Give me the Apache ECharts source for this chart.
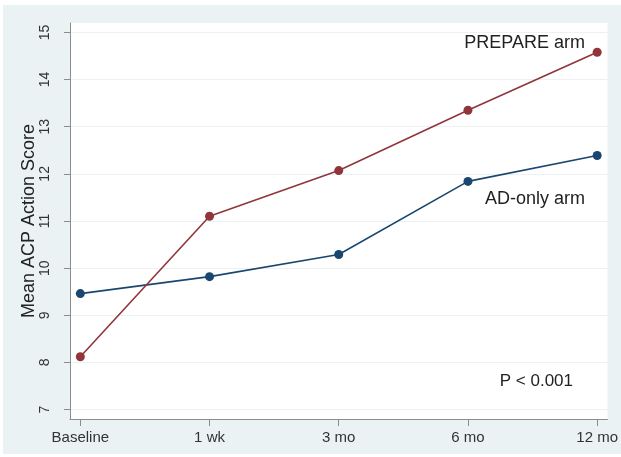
<!DOCTYPE html>
<html>
<head>
<meta charset="utf-8">
<script src="https://cdn.jsdelivr.net/npm/echarts@6/dist/echarts.min.js"></script>
<style>
  html, body { margin: 0; padding: 0; background: #fff; }
  #myChart { position: absolute; left: 3px; top: 5px; width: 618px; height: 449px; }
</style>
</head>
<body>
<div id="myChart"></div>
<script>
// time points (x positions 0..4)
var timePoints = ['Baseline', '1 wk', '3 mo', '6 mo', '12 mo'];
var prepareArm = [8.12, 11.10, 12.07, 13.35, 14.58];
var adOnlyArm = [9.46, 9.82, 10.29, 11.84, 12.39];
var yTicks = [7, 8, 9, 10, 11, 12, 13, 14, 15];

var myChart = echarts.init(document.querySelector('#myChart'));

function pairs(arr) {
    return arr.map(function (v, i) { return [i, v]; });
}

var font = '"Liberation Sans", Arial, sans-serif';

option = {
    backgroundColor: '#eaf2f3',
    animation: false,
    textStyle: { fontFamily: font },
    grid: {
        left: 67, top: 18, right: 9, bottom: 35,
        show: true, backgroundColor: '#ffffff', borderWidth: 0
    },
    xAxis: {
        type: 'value',
        min: -0.08,
        max: 4.08,
        axisLine: { show: true, onZero: false, lineStyle: { color: '#8c8c8c', width: 1 } },
        axisTick: { show: true, length: 7, customValues: [0, 1, 2, 3, 4], lineStyle: { color: '#8c8c8c' } },
        axisLabel: {
            customValues: [0, 1, 2, 3, 4],
            formatter: function (v) { return timePoints[Math.round(v)]; },
            color: '#333', fontSize: 15, fontFamily: font, margin: 11
        },
        splitLine: { show: false }
    },
    yAxis: {
        type: 'value',
        min: 6.8,
        max: 15.2,
        name: 'Mean ACP Action Score',
        nameLocation: 'middle',
        nameGap: 32,
        nameMoveOverlap: false,
        nameTextStyle: { fontSize: 18, color: '#222', fontFamily: font },
        axisLine: { show: true, onZero: false, lineStyle: { color: '#8c8c8c', width: 1 } },
        axisTick: { show: true, length: 6, customValues: yTicks, lineStyle: { color: '#8c8c8c' } },
        axisLabel: {
            customValues: yTicks,
            rotate: 90,
            color: '#333', fontSize: 14, fontFamily: font, margin: 18
        },
        splitLine: { show: true, lineStyle: { color: '#eaf2f3', width: 1 } }
    },
    graphic: [
        { type: 'text', right: 36, top: 29, style: { text: 'PREPARE arm', font: '18px ' + font, fill: '#222' } },
        { type: 'text', right: 36, top: 185, style: { text: 'AD-only arm', font: '18px ' + font, fill: '#222' } },
        { type: 'text', right: 48, top: 368, style: { text: 'P < 0.001', font: '17px ' + font, fill: '#222' } }
    ],
    series: [{
        name: 'AD-only arm',
        type: 'line',
        data: pairs(adOnlyArm),
        symbol: 'circle',
        symbolSize: 9,
        itemStyle: { color: '#1a476f' },
        lineStyle: { color: '#1a476f', width: 1.6 }
    }, {
        name: 'PREPARE arm',
        type: 'line',
        data: pairs(prepareArm),
        symbol: 'circle',
        symbolSize: 9,
        itemStyle: { color: '#90353b' },
        lineStyle: { color: '#90353b', width: 1.6 }
    }]
};

myChart.setOption(option);
</script>
</body>
</html>
